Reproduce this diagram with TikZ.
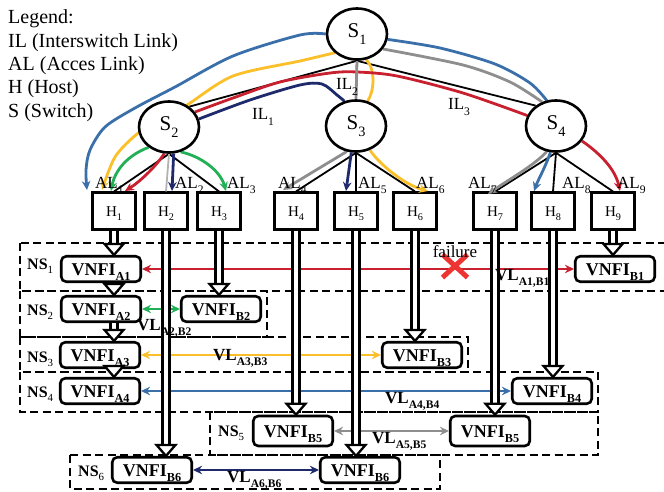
\documentclass[tikz,border=0pt]{standalone}
\usepackage{fontspec}
\setmainfont{Liberation Serif}
\usetikzlibrary{arrows.meta,shapes.geometric,shapes.misc,calc}
\definecolor{ilblue}{HTML}{3A6FAA}
\definecolor{ilyellow}{HTML}{FBBF2A}
\definecolor{ilred}{HTML}{C8202E}
\definecolor{ilnavy}{HTML}{1F2A6C}
\definecolor{ilgray}{HTML}{8E8E8E}
\definecolor{ilgreen}{HTML}{22B057}
\definecolor{failred}{HTML}{EE3333}
\pgfdeclarelayer{front}
\pgfsetlayers{main,front}
\makeatletter
\newcommand\sub[1]{\raisebox{-0.3em}{\fontsize{\strip@pt\dimexpr0.68\dimexpr\f@size pt\relax\relax}{1}\selectfont #1}}
\makeatother
\newcommand\hollowarrow[2]{%
  \draw[shaft] (#1) -- ($(#2)+(0,-10)$);
  \draw[hollowhead] (#2) -- ++(-9.5,-11) -- ++(19,0) -- cycle;}
\begin{document}
\begin{tikzpicture}[x=1pt,y=-1pt,
    sw/.style={ellipse,draw,line width=2.6pt,fill=white,minimum width=60pt,minimum height=51pt,inner sep=0pt,font=\fontsize{21}{21}\selectfont},
    host/.style={draw,line width=2.6pt,fill=white,minimum width=43.5pt,minimum height=36.5pt,inner sep=0pt,text height=10pt,text depth=0pt,font=\fontsize{15}{15}\selectfont},
    vnfi/.style={draw,line width=2.6pt,rounded corners=5pt,fill=white,minimum width=79.5pt,minimum height=25.5pt,inner sep=0pt,text height=12pt,text depth=0pt,font=\bfseries\fontsize{18}{18}\selectfont},
    nsbox/.style={line width=2.4pt,dash pattern=on 8pt off 4.5pt},
    nslabel/.style={anchor=base west,inner sep=0pt,font=\bfseries\fontsize{16}{16}\selectfont},
    vllabel/.style={anchor=base west,inner sep=0pt,font=\bfseries\fontsize{17}{17}\selectfont},
    lklabel/.style={anchor=base west,inner sep=0pt,font=\fontsize{17}{17}\selectfont},
    link/.style={line width=1.8pt},
    route/.style={line width=2.8pt},
    routetip/.style={-{Stealth[length=9pt,width=8.5pt]}},
    vlarrow/.style={line width=2.4pt,{Stealth[length=9pt,width=8.5pt]}-{Stealth[length=9pt,width=8.5pt]}},
    shaft/.style={double=white,double distance=4.2pt,line width=2.5pt},
    hollowhead/.style={draw=black,fill=white,line width=2.3pt,line join=miter}]
  \useasboundingbox (0,0) rectangle (664,492);
  % legend
  \node[anchor=north west,align=left,inner sep=0pt,font=\fontsize{20}{23.4}\selectfont] (legend) at (8,9.6)
    {Legend:\\IL (Interswitch Link)\\AL (Acces Link)\\H (Host)\\S (Switch)};
  % switches
  \begin{pgfonlayer}{front}
    \node[sw] (S1) at (357,34) {S\sub{1}};
    \node[sw] (S2) at (169,127) {S\sub{2}};
    \node[sw] (S3) at (356,126) {S\sub{3}};
    \node[sw] (S4) at (556,126) {S\sub{4}};
  \end{pgfonlayer}
  % hosts
  \foreach \n/\x in {1/114,2/166,3/219,4/296,5/356,6/415,7/495,8/553,9/613}
    \node[host] (H\n) at (\x,211) {H\sub{\n}};
  % links
  \draw[link] (S1.south) -- (S2.45);
  \draw[link] (S1.south) -- (S3.north);
  \draw[link] (S1.south) -- (S4.135);
  \foreach \h in {1,3} \draw[link] (S2.south) -- (H\h.north);
  \draw[link,black!30] (S2.south) -- (H2.north);
  \foreach \h in {4,5,6} \draw[link] (S3.south) -- (H\h.north);
  \foreach \h in {7,8,9} \draw[link] (S4.south) -- (H\h.north);
  % route ends
  \coordinate (tA) at (87,190);
  \coordinate (tB) at (102,190);
  \coordinate (tC) at (111,191);
  \coordinate (tD) at (125,191);
  \coordinate (tE) at (172,191);
  \coordinate (tF) at (226,191);
  \coordinate (tG) at (283,190);
  \coordinate (tH) at (346,191);
  \coordinate (tI) at (428,191);
  \coordinate (tJ) at (488,194);
  \coordinate (tK) at (534,191);
  \coordinate (tL) at (620,191);
  % blue route
  \draw[route,ilblue,routetip] plot[smooth] coordinates {(S1.west) (300,35) (233,56) (175,87) (135,108) (105,127) (90,150) (86,170) (tA)};
  \draw[route,ilblue] plot[smooth] coordinates {(S1.350) (440,48) (495,64) (530,83) (S4.110)};
  \draw[route,ilblue,routetip] (S4.258) .. controls (545,168) and (538,180) .. (tK);
  % yellow route
  \draw[route,ilyellow,routetip] plot[smooth] coordinates {(S1.220) (300,61) (233,76) (187,105) (160,120) (137,134) (115,157) (tB)};
  \draw[route,ilyellow] (S1.290) .. controls (376,70) and (374,92) .. (S3.65);
  \draw[route,ilyellow,routetip] (S3.300) .. controls (380,165) and (405,185) .. (tI);
  % red route
  \draw[route,ilred] plot[smooth] coordinates {(S2.30) (233,98) (280,82) (330,73) (357,72) (397,76) (463,93) (S4.160)};
  \draw[route,ilred,routetip] (S2.260) .. controls (155,168) and (138,183) .. (tD);
  \draw[route,ilred,routetip] (S4.330) .. controls (598,152) and (615,168) .. (tL);
  % navy route
  \draw[route,ilnavy] plot[smooth] coordinates {(S2.15) (250,100) (300,85) (322,84) (337,95) (S3.115)};
  \draw[route,ilnavy,routetip] (S2.280) -- (tE);
  \draw[route,ilnavy,routetip] (S3.260) -- (tH);
  % gray route
  \draw[route,ilgray] (S1.south) -- (S3.north);
  \draw[route,ilgray] plot[smooth] coordinates {(S1.330) (463,65) (510,82) (S4.120)};
  \draw[route,ilgray,routetip] (S3.250) -- (tG);
  \draw[route,ilgray,routetip] (S4.250) .. controls (535,165) and (505,182) .. (tJ);
  % green route
  \draw[route,ilgreen,routetip] (S2.225) .. controls (128,155) and (115,170) .. (tC);
  \draw[route,ilgreen,routetip] (S2.295) .. controls (200,156) and (220,170) .. (tF);
  % link labels
  \node[lklabel] (il1) at (252,120) {IL\sub{1}};
  \node[lklabel] (il2) at (336,90) {IL\sub{2}};
  \node[lklabel] (il3) at (448,110) {IL\sub{3}};
  \foreach \n/\x in {1/95,2/175,3/227,4/278,5/358,6/416,7/468,8/562,9/617}
    \node[lklabel] (al\n) at (\x,188) {AL\sub{\n}};
  % network slices
  \draw[nsbox] (20,243) rectangle (670,291);
  \draw[nsbox] (20,291) rectangle (267,337);
  \draw[nsbox] (20,337) rectangle (468,372);
  \draw[nsbox] (20,372) rectangle (598,412);
  \draw[nsbox] (210,412) rectangle (598,455);
  \draw[nsbox] (70,455) rectangle (440,489);
  \node[nslabel] (ns1) at (27,269) {NS\sub{\mdseries 1}};
  \node[nslabel] (ns2) at (27,315) {NS\sub{\mdseries 2}};
  \node[nslabel] (ns3) at (27,362) {NS\sub{\mdseries 3}};
  \node[nslabel] (ns4) at (27,397) {NS\sub{\mdseries 4}};
  \node[nslabel] (ns5) at (218,436) {NS\sub{\mdseries 5}};
  \node[nslabel] (ns6) at (78,476) {NS\sub{\mdseries 6}};
  % VNF instances
  \node[vnfi] (A1) at (101,269) {VNFI\sub{A1}};
  \node[vnfi] (A2) at (101,309) {VNFI\sub{A2}};
  \node[vnfi] (B2) at (221,309) {VNFI\sub{B2}};
  \node[vnfi] (A3) at (100,355) {VNFI\sub{A3}};
  \node[vnfi] (B1) at (615,269) {VNFI\sub{B1}};
  \node[vnfi] (B3) at (422,355) {VNFI\sub{B3}};
  \node[vnfi] (A4) at (100,391) {VNFI\sub{A4}};
  \node[vnfi] (B4) at (552,391) {VNFI\sub{B4}};
  \node[vnfi,minimum height=30pt] (B5a) at (293,431) {VNFI\sub{B5}};
  \node[vnfi,minimum height=30pt] (B5b) at (490,431) {VNFI\sub{B5}};
  \node[vnfi] (B6a) at (152,470) {VNFI\sub{B6}};
  \node[vnfi] (B6b) at (360,470) {VNFI\sub{B6}};
  % virtual links
  \draw[vlarrow,ilred] (A1.east) -- (B1.west);
  \draw[vlarrow,ilgreen] (A2.east) -- (B2.west);
  \draw[vlarrow,ilyellow] (A3.east) -- (B3.west);
  \draw[vlarrow,ilblue] (A4.east) -- (B4.west);
  \draw[vlarrow,ilgray] (B5a.east) -- (B5b.west);
  \draw[vlarrow,ilnavy] (B6a.east) -- (B6b.west);
  % failure
  \node[cross out,draw=failred,line width=5pt,minimum width=20pt,minimum height=18pt,inner sep=0pt] (fail) at (455,266) {};
  \node[lklabel,anchor=base] (failtxt) at (455,257) {failure};
  % host to instance mapping
  \hollowarrow{H1.south}{H1.south |- A1.north}
  \hollowarrow{H1.south |- A1.south}{H1.south |- A2.north}
  \hollowarrow{H1.south |- A2.south}{H1.south |- A3.north}
  \hollowarrow{H1.south |- A3.south}{H1.south |- A4.north}
  \hollowarrow{H2.south}{H2.south |- B6a.north}
  \hollowarrow{H3.south}{H3.south |- B2.north}
  \hollowarrow{H4.south}{H4.south |- B5a.north}
  \hollowarrow{H5.south}{H5.south |- B6b.north}
  \hollowarrow{H6.south}{H6.south |- B3.north}
  \hollowarrow{H7.south}{H7.south |- B5b.north}
  \hollowarrow{H8.south}{H8.south |- B4.north}
  \hollowarrow{H9.south}{H9.south |- B1.north}
  % link names
  \node[vllabel] (vl1) at (495,280) {VL\sub{A1,B1}};
  \node[vllabel] (vl2) at (137,330) {VL\sub{A2,B2}};
  \node[vllabel] (vl3) at (213,360) {VL\sub{A3,B3}};
  \node[vllabel] (vl4) at (385,403) {VL\sub{A4,B4}};
  \node[vllabel] (vl5) at (372,443) {VL\sub{A5,B5}};
  \node[vllabel] (vl6) at (227,482) {VL\sub{A6,B6}};
\end{tikzpicture}
\end{document}
